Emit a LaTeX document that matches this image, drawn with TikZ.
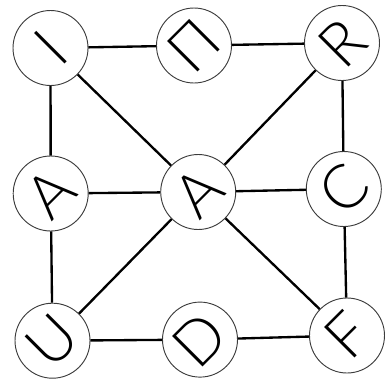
\documentclass[tikz,border=0pt]{standalone}
\usepackage{fontspec}
\newfontfamily\letterfont{Lato Light}
\usepackage{xcolor}
\definecolor{ringgray}{RGB}{60,60,60}

\begin{document}
\begin{tikzpicture}[x=0.03cm,y=-0.03cm,
      ring/.style={draw=ringgray,circle,line width=0.8pt,minimum size=2.25cm,inner sep=0pt,
        rotate=45,font=\letterfont\fontsize{52}{52}\selectfont},
      link/.style={line width=2pt}]
    \useasboundingbox (0,0) rectangle (387,384);
    \node[ring] (i) at (50.5,48) {I};
    \node[ring] (p) at (194,45.5) {П};
    \node[ring] (r) at (342,43) {R};
    \node[ring] (al) at (50.7,193.5) {A};
    \node[ring] (ac) at (198.2,192) {A};
    \node[ring] (c) at (343.8,189) {C};
    \node[ring] (u) at (52.5,340.7) {U};
    \node[ring] (d) at (200,339.6) {D};
    \node[ring] (f) at (347,335.5) {F};
    \draw[link] (i)--(p); \draw[link] (p)--(r); \draw[link] (r)--(c); \draw[link] (c)--(f);
    \draw[link] (f)--(d); \draw[link] (d)--(u); \draw[link] (u)--(al); \draw[link] (al)--(i);
    \draw[link] (al)--(ac); \draw[link] (ac)--(c);
    \draw[link] (i)--(ac); \draw[link] (r)--(ac); \draw[link] (u)--(ac); \draw[link] (f)--(ac);
  \end{tikzpicture}
\end{document}
